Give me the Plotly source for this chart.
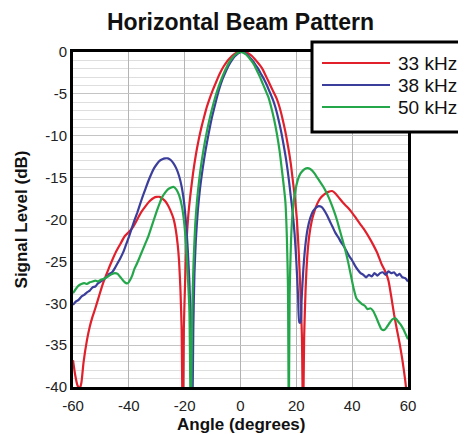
import plotly.graph_objects as go

# 33 kHz (red)
angle_33 = [-60, -59.2, -58.4, -57.6, -57, -56.2, -55, -54, -53, -52, -51, -50, -49, -47.5, -46,
            -44.5, -43, -41.5, -40, -38.5, -37, -35.5, -34, -32.5, -31, -30, -29, -28, -27, -26,
            -25, -24, -23.2, -22.5, -22, -21.5, -21.1, -20.7, -20.3, -19.8, -19.3, -18.7, -18,
            -17, -16, -15, -14, -13, -12, -11, -10, -9, -8, -7, -6, -5, -4, -3, -2, -1, 0, 1,
            2, 3, 4, 5, 6, 7, 8, 9, 10, 11, 12, 13, 14, 15, 16, 17, 18, 18.8, 19.5, 20.2, 20.8,
            21.4, 22, 22.4, 22.8, 23.3, 23.9, 24.6, 25.5, 26.5, 27.5, 28.5, 30, 31.5, 32.8, 34,
            35.5, 37, 38.5, 40, 41.5, 43, 44.5, 46, 47.5, 49, 50.5, 52, 53, 54, 55, 56, 57, 58,
            59, 59.6, 60]
level_33 = [-36.8, -38.6, -39.8, -40.2, -39.5, -37, -34.4, -32.8, -31.6, -30.6, -29.5, -28.4, -27.4,
            -26.1, -24.9, -23.8, -22.9, -22, -21.5, -20.9, -20, -19.1, -18.4, -17.8, -17.4, -17.3,
            -17.3, -17.5, -17.8, -18.3, -19, -19.9, -21.2, -23, -25, -28.5, -33, -45, -33, -27,
            -22.5, -19.5, -17.2, -14.5, -12.3, -10.5, -9, -7.7, -6.5, -5.5, -4.6, -3.8, -3, -2.3,
            -1.7, -1.2, -0.8, -0.45, -0.2, -0.05, 0, 0, -0.05, -0.2, -0.45, -0.8, -1.2, -1.6, -2.1,
            -2.8, -3.5, -4.2, -4.9, -5.6, -6.6, -7.9, -9.4, -11.2, -13.3, -15.5, -17.5, -20, -23.5,
            -28, -34, -45, -34, -28.5, -24.5, -22, -20.2, -19, -18.1, -17.5, -17, -16.7, -16.6,
            -16.9, -17.5, -18.1, -18.6, -19.2, -19.9, -20.6, -21.3, -22.1, -23, -24, -25.3, -26.3,
            -27.3, -29.2, -31.3, -33.1, -34.8, -36.8, -39.2, -41, -42]

# 38 kHz (blue)
angle_38 = [-60, -59, -58, -57, -56, -55, -54, -53, -52, -51, -50, -49, -48, -47, -46, -45, -44, -43,
            -42, -41, -40, -39, -38, -37, -36, -35, -34, -33, -32, -31, -30, -29, -28, -27, -26,
            -25, -24, -23, -22, -21, -20.2, -19.5, -18.9, -18.3, -17.8, -17.3, -16.9, -16.5, -16,
            -15.3, -14.5, -13.5, -12.5, -11.5, -10.5, -9.5, -8.5, -7.5, -6.5, -5.5, -4.5, -3.5,
            -2.5, -1.5, -0.5, 0.5, 1.5, 2.5, 3.5, 4.5, 5.5, 6.5, 7.5, 8.5, 9.5, 10.5, 11.5, 12.5,
            13.5, 14.5, 15.5, 16.5, 17.3, 18, 18.7, 19.4, 20, 20.6, 21.1, 21.5, 21.9, 22.5, 23.2,
            24, 25, 26, 27, 28, 29, 30, 31, 32, 33, 34, 35, 36, 37, 38, 39, 40, 41, 42, 43, 44,
            45, 46, 47, 48, 49, 50, 51, 52, 53, 54, 55, 56, 57, 58, 59, 60]
level_38 = [-30.2, -29.8, -29.6, -29.2, -29, -28.7, -28.5, -28.1, -28, -27.6, -27.4, -27.1, -26.9,
            -26.5, -26.3, -25.8, -25.2, -24.6, -23.9, -23, -22.1, -21.1, -20.1, -19.2, -18.2, -17.2,
            -16.3, -15.4, -14.6, -13.9, -13.4, -13, -12.8, -12.7, -12.7, -12.9, -13.3, -13.9, -14.8,
            -16.2, -18, -20.5, -23.5, -27.5, -33, -45, -33, -26.5, -22.5, -19, -16.3, -13.8, -11.7,
            -9.9, -8.2, -6.8, -5.5, -4.3, -3.3, -2.5, -1.8, -1.2, -0.7, -0.35, -0.1, 0, -0.1, -0.35,
            -0.7, -1.1, -1.6, -2.1, -2.7, -3.3, -4, -4.8, -5.6, -6.6, -7.9, -9.4, -11.2, -13.2,
            -15.2, -17.2, -19.2, -21.8, -25, -29, -32.3, -32.3, -29.5, -26, -23.2, -21.2, -19.8, -19,
            -18.6, -18.4, -18.5, -18.9, -19.5, -20.2, -20.9, -21.6, -22.1, -22.7, -23.2, -23.8,
            -24.4, -24.9, -25.5, -26, -26.4, -26.6, -26.9, -26.6, -26.8, -26.4, -26.7, -26.4, -26.3,
            -26.6, -26.2, -26.4, -26.3, -26.7, -26.5, -26.9, -27, -27.4]

# 50 kHz (green)
angle_50 = [-60, -59, -58, -57, -56, -55, -54, -53, -52, -51, -50, -49, -48, -47, -46, -45, -44, -43,
            -42, -41, -40.3, -39.5, -38.7, -38, -37, -36, -35, -34, -33, -32, -31, -30, -29, -28,
            -27, -26, -25, -24, -23, -22, -21, -20.2, -19.5, -18.9, -18.3, -17.8, -17.3, -16.8,
            -16.2, -15.5, -14.7, -13.8, -12.8, -11.8, -10.8, -9.8, -8.8, -7.8, -6.8, -5.8, -4.8,
            -3.8, -2.8, -1.8, -0.8, 0, 1, 2, 3, 4, 5, 6, 7, 8, 9, 10, 11, 12, 13, 14, 14.8, 15.5,
            16.1, 16.6, 17, 17.3, 17.6, 18.1, 18.7, 19.5, 20.5, 21.5, 22.5, 23.5, 24.5, 25.5, 26.5,
            27.5, 28.5, 29.5, 30.5, 31.5, 32.5, 33.5, 34.5, 35.5, 36.5, 37.5, 38.5, 39.5, 40.5,
            41.5, 42.5, 43.5, 44.5, 45.5, 46.5, 47.5, 48.5, 49.5, 50.5, 51.5, 52.5, 53.5, 54.5,
            55.5, 56.5, 57.5, 58.5, 59.3, 60]
level_50 = [-28.8, -28.3, -27.9, -27.7, -27.6, -27.7, -27.5, -27.4, -27.3, -27.4, -27.2, -27.1, -26.9,
            -26.7, -26.5, -26.4, -26.5, -26.9, -27.3, -27.6, -27.6, -27.2, -26.6, -25.9, -25.2,
            -24.4, -23.6, -22.8, -22, -21, -20, -19, -18.1, -17.3, -16.8, -16.4, -16.2, -16.1,
            -16.4, -17.1, -18.4, -20.3, -23, -26.5, -31, -45, -31, -25, -20.5, -17.5, -15, -12.8,
            -10.8, -9.1, -7.6, -6.3, -5.1, -4.1, -3.2, -2.4, -1.7, -1.1, -0.65, -0.3, -0.08, 0,
            -0.08, -0.3, -0.65, -1.1, -1.6, -2.3, -3, -3.8, -4.6, -5.4, -6.6, -8, -9.7, -11.8,
            -14, -16, -18, -22, -28, -45, -29, -22.5, -19, -16.8, -15.3, -14.5, -14.1, -13.9,
            -13.9, -14.1, -14.5, -15, -15.5, -16, -16.6, -17.3, -18.1, -19, -20, -21.2, -22.4,
            -23.6, -25, -26.6, -28.2, -29.4, -29.8, -30.1, -30.3, -30.7, -30.6, -30.9, -31.6,
            -32.4, -33.1, -33.2, -32.8, -32.3, -31.9, -31.8, -32.2, -32.6, -33.2, -33.8, -34.3]

series_names = ["33 kHz", "38 kHz", "50 kHz"]
series_colors = ["#e2202c", "#3c3e9c", "#24a74a"]

x_tick_vals = [-60, -40, -20, 0, 20, 40, 60]
x_tick_text = ["-60", "-40", "-20", "0", "20", "40", "60"]
y_tick_vals = [0, -5, -10, -15, -20, -25, -30, -35, -40]
y_tick_text = ["0", "-5", "-10", "-15", "-20", "-25", "-30", "-35", "-40"]

FONT = "Liberation Sans, Arial, sans-serif"

# the page body has an 8px margin, so the figure is 8px smaller than the window
W, H = 458, 426

fig = go.Figure()
for name, xs, ys, col in zip(series_names, [angle_33, angle_38, angle_50],
                             [level_33, level_38, level_50], series_colors):
    fig.add_trace(go.Scatter(x=xs, y=ys, name=name, mode="lines",
                             line=dict(color=col, width=2.2, shape="spline", smoothing=0.6)))

fig.update_layout(
    width=W, height=H,
    margin=dict(l=65, r=58, t=44, b=47),
    paper_bgcolor="white", plot_bgcolor="white",
    showlegend=False,
    font=dict(family=FONT, color="#222"),
    title=dict(text="Horizontal Beam Pattern", x=0.5, xref="paper", xanchor="center",
               y=1 - 14 / H, yref="container", yanchor="middle",
               font=dict(size=23, weight="bold", color="#111")),
)

fig.update_xaxes(
    range=[-60, 60], tickvals=x_tick_vals, ticktext=x_tick_text,
    tickfont=dict(size=15, color="#222"), ticks="", ticklabelstandoff=3,
    showgrid=True, gridcolor="#b4b4b4", gridwidth=1.3,
    showline=True, linecolor="black", linewidth=3, mirror=True, zeroline=False,
    automargin=False,
)
fig.update_yaxes(
    range=[-40, 0], tickvals=y_tick_vals, ticktext=y_tick_text,
    tickfont=dict(size=15, color="#222"), ticks="",
    showgrid=True, gridcolor="#c4c4c4", gridwidth=1,
    minor=dict(dtick=1, showgrid=True, gridcolor="#dedede", gridwidth=1),
    showline=True, linecolor="black", linewidth=3, mirror=True, zeroline=False,
    title=dict(text="Signal Level (dB)", font=dict(size=17, weight="bold", color="#111"), standoff=14),
    automargin=False,
)

# positions below are given in window pixels (plot area spans 73..408 x 52..387)
def px_x(p):
    return (p - 73) / 335.0

def px_y(p):
    return (387 - p) / 335.0

fig.add_annotation(text="Angle (degrees)", xref="paper", yref="paper", x=px_x(241), y=px_y(424),
                   xanchor="center", yanchor="middle", showarrow=False,
                   font=dict(size=17, weight="bold", color="#111"))

# hand-drawn legend box, running off the right edge like the original
fig.add_shape(type="rect", xref="paper", yref="paper",
              x0=px_x(312), x1=px_x(480), y0=px_y(132), y1=px_y(42),
              line=dict(color="black", width=3), fillcolor="white", layer="above")
for i, (name, col) in enumerate(zip(series_names, series_colors)):
    yy = px_y(63 + 22 * i)
    fig.add_shape(type="line", xref="paper", yref="paper",
                  x0=px_x(322), x1=px_x(390), y0=yy, y1=yy,
                  line=dict(color=col, width=2.2), layer="above")
    fig.add_annotation(text=name, xref="paper", yref="paper", x=px_x(396), y=yy,
                       xanchor="left", yanchor="middle", showarrow=False,
                       font=dict(size=19, color="#111"))

fig.write_html("out.html")
